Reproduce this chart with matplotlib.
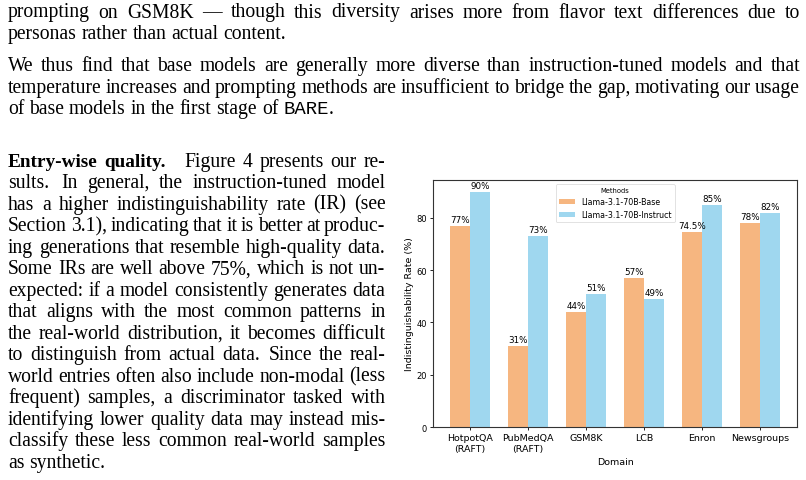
import re
import numpy as np
import matplotlib
matplotlib.use("Agg")
import matplotlib.pyplot as plt

plt.rcParams["font.family"] = ["DejaVu Sans"]

# Daten
domains = ["HotpotQA\n(RAFT)", "PubMedQA\n(RAFT)", "GSM8K", "LCB", "Enron", "Newsgroups"]
base = [77, 31, 44, 57, 74.5, 78]
instruct = [90, 73, 51, 49, 85, 82]
base_labels = ["77%", "31%", "44%", "57%", "74.5%", "78%"]
instruct_labels = ["90%", "73%", "51%", "49%", "85%", "82%"]

# Fliesstext (** = fett, ` = Schreibmaschine)
para_top = [
    "prompting on GSM8K — though this diversity arises more from flavor text differences due to",
    "personas rather than actual content.",
]
para_mid = [
    "We thus find that base models are generally more diverse than instruction-tuned models and that",
    "temperature increases and prompting methods are insufficient to bridge the gap, motivating our usage",
    "of base models in the first stage of `BARE`.",
]
para_left = [
    "**Entry-wise** **quality.** Figure 4 presents our re-",
    "sults. In general, the instruction-tuned model",
    "has a higher indistinguishability rate (IR) (see",
    "Section 3.1), indicating that it is better at produc-",
    "ing generations that resemble high-quality data.",
    "Some IRs are well above 75%, which is not un-",
    "expected: if a model consistently generates data",
    "that aligns with the most common patterns in",
    "the real-world distribution, it becomes difficult",
    "to distinguish from actual data. Since the real-",
    "world entries often also include non-modal (less",
    "frequent) samples, a discriminator tasked with",
    "identifying lower quality data may instead mis-",
    "classify these less common real-world samples",
    "as synthetic.",
]

W, H = 806, 481
fig = plt.figure(figsize=(W / 100, H / 100), dpi=100)
renderer = fig.canvas.get_renderer()

FS = 14.1  # pt
EM = FS * 100 / 72  # px
styles = {
    "r": dict(family="Liberation Serif", fontsize=FS),
    "b": dict(family="Liberation Serif", weight="bold", fontsize=FS - 0.2),
    "m": dict(family="Liberation Mono", fontsize=FS - 0.4),
}


def segs(word):
    out = []
    for p in re.split(r"(\*\*.*?\*\*|`.*?`)", word):
        if not p:
            continue
        if p.startswith("**"):
            out.append((p[2:-2], "b"))
        elif p.startswith("`"):
            out.append((p[1:-1], "m"))
        else:
            out.append((p, "r"))
    return out


def draw_line(line, x0, x1, y, justify):
    words = line.split(" ")
    items = []
    for wd in words:
        parts = []
        for s, st in segs(wd):
            t = fig.text(x0 / W, 1 - y / H, s, va="baseline", ha="left",
                         **styles[st])
            wpx = t.get_window_extent(renderer).width
            parts.append((t, wpx))
        items.append((wd, parts))
    widths = [sum(p[1] for p in parts) for _, parts in items]
    # Quad nach der Ueberschrift, etwas mehr Platz nach Satzende
    extra = []
    for i, (wd, _) in enumerate(items):
        e = 0
        if i + 1 < len(items):
            if wd.startswith("**") and not items[i + 1][0].startswith("**"):
                e = EM * 0.6
            elif wd.endswith(".") and items[i + 1][0][:1].isupper():
                e = EM * 0.12
        extra.append(e)
    if justify and len(items) > 1:
        gap = (x1 - x0 - sum(widths) - sum(extra)) / (len(items) - 1)
    else:
        gap = 0.25 * EM
    x = x0
    for i, (wd, parts) in enumerate(items):
        for t, wpx in parts:
            t.set_x(x / W)
            x += wpx
        x += gap + extra[i]


def draw_para(lines, x0, x1, y0, dy):
    for i, ln in enumerate(lines):
        draw_line(ln, x0, x1, y0 + i * dy, i < len(lines) - 1)


draw_para(para_top, 8, 800, 17.5, 21.7)
draw_para(para_mid, 8, 800, 71, 21.7)
draw_para(para_left, 8, 385.5, 166.7, 21.5)

# Diagramm
ax = fig.add_axes([433 / W, 1 - 428 / H, 364 / W, 247 / H])
x = np.arange(len(domains))
w = 0.35
b1 = ax.bar(x - w / 2, base, w, color="sandybrown", alpha=0.8,
            label="Llama-3.1-70B-Base")
b2 = ax.bar(x + w / 2, instruct, w, color="skyblue", alpha=0.8,
            label="Llama-3.1-70B-Instruct")
ax.bar_label(b1, labels=base_labels, padding=1.5, fontsize=6.3)
ax.bar_label(b2, labels=instruct_labels, padding=1.5, fontsize=6.3)

ax.set_xticks(x)
ax.set_xticklabels(domains, fontsize=6.8)
ax.tick_params(axis="y", labelsize=6.0)
ax.tick_params(length=2.5, width=0.6, pad=2)
ax.set_xlabel("Domain", fontsize=6.8, labelpad=3)
ax.set_ylabel("Indistinguishability Rate (%)", fontsize=6.8, labelpad=1.5)
for sp in ax.spines.values():
    sp.set_color("#333333")
    sp.set_linewidth(0.8)

leg = ax.legend(title="Methods", loc="upper center", fontsize=5.7,
                title_fontsize=4.9)
leg.get_frame().set_linewidth(0.5)

fig.savefig("out.png", dpi=100)
